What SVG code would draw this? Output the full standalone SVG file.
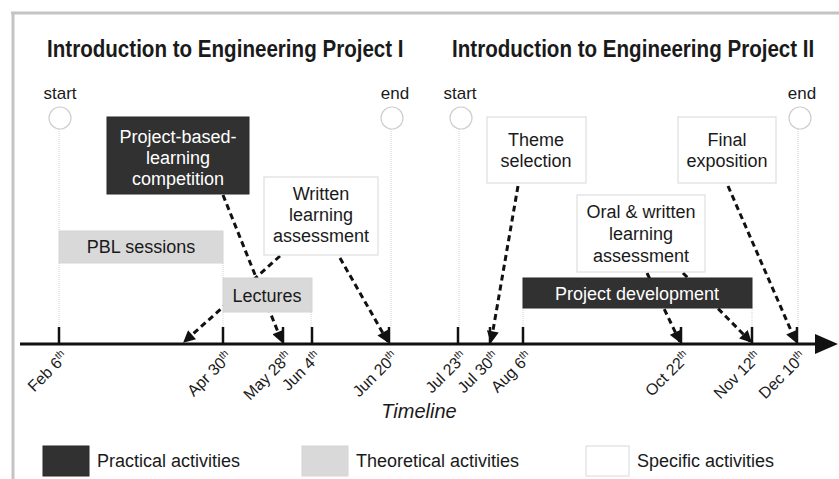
<svg xmlns="http://www.w3.org/2000/svg" width="839" height="479" viewBox="0 0 839 479">
<defs>
<style>
text{font-family:"Liberation Sans",Arial,sans-serif;fill:#1a1a1a}
.title{font-size:23px;font-weight:bold}
.lbl{font-size:18px;text-anchor:middle}
.wl{fill:#ffffff}
.se{font-size:17px;text-anchor:middle}
.date{font-size:16px;text-anchor:end}
.leg{font-size:18px}
.dark{fill:#313131;stroke:#2a2a2a;stroke-width:1}
.gray{fill:#d9d9d9;stroke:#d4d4d4;stroke-width:1}
.white{fill:#ffffff;stroke:#d8d8d8;stroke-width:1}
.circ{fill:#ffffff;stroke:#cfcfcf;stroke-width:1.2}
.guide{stroke:#d0d0d0;stroke-width:1;stroke-dasharray:1,1;fill:none}
.tick{stroke:#111;stroke-width:2.5}
.conn{stroke:#111;stroke-width:3;stroke-dasharray:6,4;fill:none}
</style>
<marker id="ah" viewBox="0 0 10 10" refX="9" refY="5" markerWidth="4.5" markerHeight="4" orient="auto" markerUnits="strokeWidth">
<path d="M0,0 L10,5 L0,10 z" fill="#111"/>
</marker>
</defs>
<rect x="0" y="0" width="839" height="479" fill="#ffffff"/>
<g id="frame">
<line x1="11" y1="13" x2="839" y2="13" stroke="#c4c4c4" stroke-width="3"/>
<line x1="13" y1="12" x2="13" y2="479" stroke="#c4c4c4" stroke-width="3"/>
</g>
<g id="titles">
<text class="title" transform="translate(47,57) scale(0.895,1)">Introduction to Engineering Project I</text>
<text class="title" transform="translate(452,57) scale(0.895,1)">Introduction to Engineering Project II</text>
</g>
<g id="guides">
<line class="guide" x1="59" y1="129" x2="59" y2="231"/>
<line class="guide" x1="59" y1="263" x2="59" y2="327"/>
<line class="guide" x1="223" y1="263" x2="223" y2="278"/>
<line class="guide" x1="223" y1="312" x2="223" y2="327"/>
<line class="guide" x1="311" y1="312" x2="311" y2="327"/>
<line class="guide" x1="391" y1="129" x2="391" y2="327"/>
<line class="guide" x1="459" y1="129" x2="459" y2="327"/>
<line class="guide" x1="523" y1="308" x2="523" y2="327"/>
<line class="guide" x1="752" y1="308" x2="752" y2="327"/>
<line class="guide" x1="798" y1="129" x2="798" y2="327"/>
</g>
<g id="start1"><text class="se" x="60" y="99">start</text><circle class="circ" cx="60" cy="118" r="11"/></g>
<g id="end1"><text class="se" x="395" y="99">end</text><circle class="circ" cx="392" cy="118" r="11"/></g>
<g id="start2"><text class="se" x="460" y="99">start</text><circle class="circ" cx="461" cy="118" r="11"/></g>
<g id="end2"><text class="se" x="802" y="99">end</text><circle class="circ" cx="800" cy="118" r="11"/></g>
<g id="connectors">
<line class="conn" x1="223" y1="195" x2="282" y2="342" marker-end="url(#ah)"/>
<line class="conn" x1="280" y1="256" x2="184" y2="342" marker-end="url(#ah)"/>
<line class="conn" x1="340" y1="258" x2="388" y2="342" marker-end="url(#ah)"/>
<line class="conn" x1="518" y1="186" x2="491" y2="342" marker-end="url(#ah)"/>
<line class="conn" x1="728" y1="186" x2="796" y2="342" marker-end="url(#ah)"/>
<line class="conn" x1="647" y1="273" x2="680" y2="342" marker-end="url(#ah)"/>
<line class="conn" x1="683" y1="273" x2="751" y2="342" marker-end="url(#ah)"/>
</g>
<g id="pbl-competition">
<rect class="dark" x="107" y="117" width="142" height="77"/>
<text class="lbl wl" x="178" y="143">Project-based-</text>
<text class="lbl wl" x="178" y="164">learning</text>
<text class="lbl wl" x="178" y="185">competition</text>
</g>
<g id="written-assessment">
<rect class="white" x="264" y="177" width="114" height="78"/>
<text class="lbl" x="321" y="200">Written</text>
<text class="lbl" x="321" y="221">learning</text>
<text class="lbl" x="321" y="242">assessment</text>
</g>
<g id="pbl-sessions">
<rect class="gray" x="59" y="231" width="164" height="32"/>
<text class="lbl" x="141" y="253">PBL sessions</text>
</g>
<g id="lectures">
<rect class="gray" x="223" y="278" width="89" height="34"/>
<text class="lbl" x="267" y="302">Lectures</text>
</g>
<g id="theme-selection">
<rect class="white" x="487" y="117" width="99" height="66"/>
<text class="lbl" x="536" y="146">Theme</text>
<text class="lbl" x="536" y="167">selection</text>
</g>
<g id="final-exposition">
<rect class="white" x="678" y="117" width="98" height="66"/>
<text class="lbl" x="727" y="146">Final</text>
<text class="lbl" x="727" y="167">exposition</text>
</g>
<g id="oral-assessment">
<rect class="white" x="577" y="195" width="128" height="77"/>
<text class="lbl" x="641" y="218">Oral &amp; written</text>
<text class="lbl" x="641" y="240">learning</text>
<text class="lbl" x="641" y="262">assessment</text>
</g>
<g id="project-development">
<rect class="dark" x="523" y="278" width="229" height="30"/>
<text class="lbl wl" x="637" y="300">Project development</text>
</g>
<g id="axis">
<line x1="20" y1="344" x2="818" y2="344" stroke="#111" stroke-width="3"/>
<path d="M815,334 L838,344 L815,354 z" fill="#111"/>
<line class="tick" x1="59" y1="327" x2="59" y2="344"/>
<line class="tick" x1="223" y1="327" x2="223" y2="344"/>
<line class="tick" x1="283" y1="327" x2="283" y2="344"/>
<line class="tick" x1="312" y1="327" x2="312" y2="344"/>
<line class="tick" x1="389" y1="327" x2="389" y2="344"/>
<line class="tick" x1="458" y1="327" x2="458" y2="344"/>
<line class="tick" x1="490" y1="327" x2="490" y2="344"/>
<line class="tick" x1="523" y1="327" x2="523" y2="344"/>
<line class="tick" x1="681" y1="327" x2="681" y2="344"/>
<line class="tick" x1="752" y1="327" x2="752" y2="344"/>
<line class="tick" x1="797" y1="327" x2="797" y2="344"/>
</g>
<g id="dates">
<text class="date" transform="translate(69,358) rotate(-45)">Feb 6<tspan dy="-6" font-size="10">th</tspan></text>
<text class="date" transform="translate(233,358) rotate(-45)">Apr 30<tspan dy="-6" font-size="10">th</tspan></text>
<text class="date" transform="translate(293,358) rotate(-45)">May 28<tspan dy="-6" font-size="10">th</tspan></text>
<text class="date" transform="translate(322,358) rotate(-45)">Jun 4<tspan dy="-6" font-size="10">th</tspan></text>
<text class="date" transform="translate(399,358) rotate(-45)">Jun 20<tspan dy="-6" font-size="10">th</tspan></text>
<text class="date" transform="translate(468,358) rotate(-45)">Jul 23<tspan dy="-6" font-size="10">th</tspan></text>
<text class="date" transform="translate(500,358) rotate(-45)">Jul 30<tspan dy="-6" font-size="10">th</tspan></text>
<text class="date" transform="translate(533,358) rotate(-45)">Aug 6<tspan dy="-6" font-size="10">th</tspan></text>
<text class="date" transform="translate(691,358) rotate(-45)">Oct 22<tspan dy="-6" font-size="10">th</tspan></text>
<text class="date" transform="translate(762,358) rotate(-45)">Nov 12<tspan dy="-6" font-size="10">th</tspan></text>
<text class="date" transform="translate(807,358) rotate(-45)">Dec 10<tspan dy="-6" font-size="10">th</tspan></text>
<text x="419" y="418" font-size="20" font-style="italic" text-anchor="middle">Timeline</text>
</g>
<g id="legend">
<rect class="dark" x="43" y="446" width="46" height="30"/>
<text class="leg" x="97" y="467">Practical activities</text>
<rect class="gray" x="302" y="446" width="46" height="30"/>
<text class="leg" x="356" y="467">Theoretical activities</text>
<rect class="white" x="586" y="446" width="43" height="30"/>
<text class="leg" x="637" y="467">Specific activities</text>
</g>
</svg>
